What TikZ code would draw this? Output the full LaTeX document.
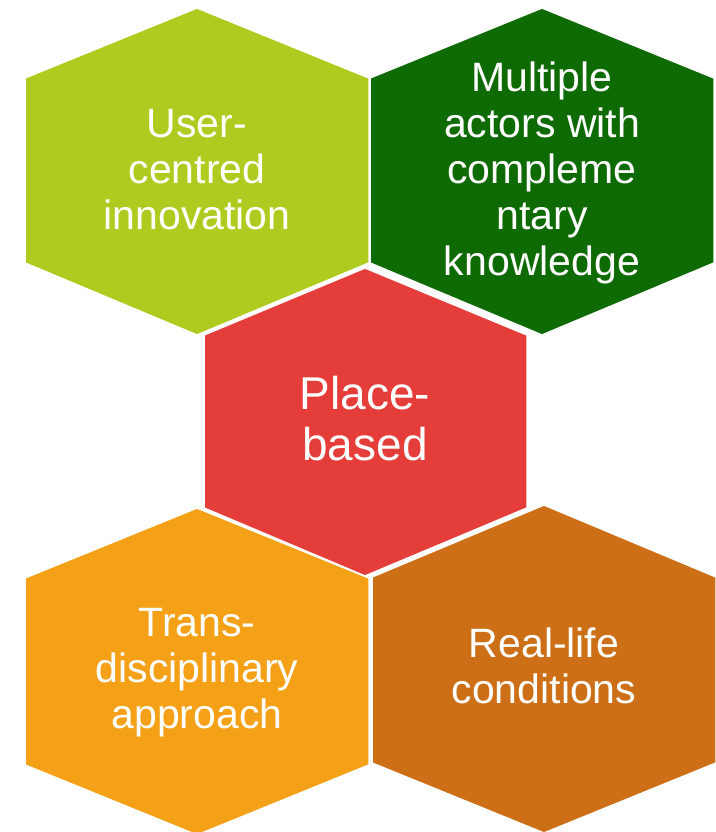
\documentclass[tikz,border=0pt]{standalone}
\usepackage{fontspec}
\setmainfont{Liberation Sans}
\usepackage{tikz}

\definecolor{limegreen}{RGB}{176,203,31}
\definecolor{darkgreen}{RGB}{14,107,4}
\definecolor{placered}{RGB}{229,62,58}
\definecolor{amber}{RGB}{244,161,24}
\definecolor{rust}{RGB}{204,111,23}

\tikzset{
    hexfill/.style={draw=white, line width=1.5pt, line join=miter},
    hexlabel/.style={text=white, align=center, inner sep=0pt,
        font=\fontsize{41}{46}\selectfont},
}

\begin{document}
\begin{tikzpicture}[x=1pt, y=1pt]
    \useasboundingbox (0,0) rectangle (715,832);
    % outer hexagons
    \filldraw[hexfill, fill=limegreen] (197,824)--(369,754)--(369,569)--(197,497)--(25,569)--(25,754)--cycle;
    \filldraw[hexfill, fill=darkgreen] (542,824)--(714,754)--(714,569)--(542,497)--(370,569)--(370,754)--cycle;
    \filldraw[hexfill, fill=amber] (197,324)--(369,254)--(369,67)--(197,-3)--(25,67)--(25,254)--cycle;
    \filldraw[hexfill, fill=rust] (544,327)--(716,255)--(716,69)--(544,-1)--(372,69)--(372,255)--cycle;
    % centre hexagon
    \filldraw[hexfill, fill=placered] (365,564)--(527,497)--(527,324)--(365,256)--(204,324)--(204,497)--cycle;
    % labels
    \node[hexlabel] (user) at (197,662) {User-\\centred\\innovation};
    \node[hexlabel] (actors) at (542,659) {Multiple\\actors with\\compleme\\ntary\\knowledge};
    \node[hexlabel, font=\fontsize{46}{51}\selectfont] (place) at (365,413) {Place-\\based};
    \node[hexlabel] (trans) at (197,159) {Trans-\\disciplinary\\approach};
    \node[hexlabel] (reallife) at (544,166) {Real-life\\conditions};
\end{tikzpicture}
\end{document}
